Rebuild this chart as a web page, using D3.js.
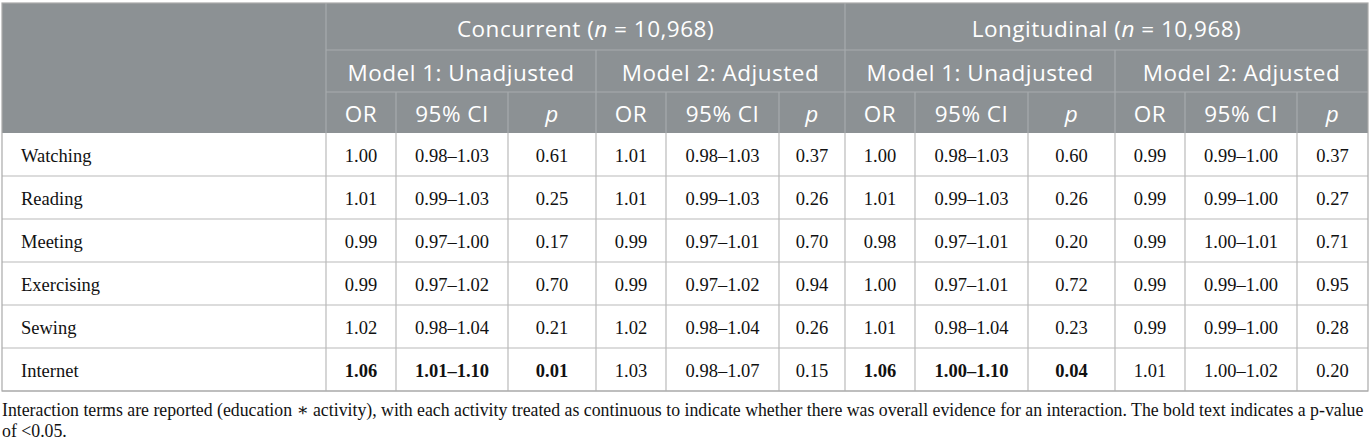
<!DOCTYPE html>
<meta charset="utf-8">
<script src="https://d3js.org/d3.v7.min.js"></script>
<style>
  body { margin: 0; background: #fff; }
  .sans { font-family: "Open Sans", sans-serif; }
  .serif { font-family: "Liberation Serif", "DejaVu Serif", serif; }
</style>
<body>
<div id="visual"></div>
<script>

// rows of the table
var activities = ["Watching", "Reading", "Meeting", "Exercising", "Sewing", "Internet"];

// Concurrent, model 1 (unadjusted)
var concM1OR = ["1.00", "1.01", "0.99", "0.99", "1.02", "1.06"];
var concM1CI = ["0.98–1.03", "0.99–1.03", "0.97–1.00", "0.97–1.02", "0.98–1.04", "1.01–1.10"];
var concM1P  = ["0.61", "0.25", "0.17", "0.70", "0.21", "0.01"];
// Concurrent, model 2 (adjusted)
var concM2OR = ["1.01", "1.01", "0.99", "0.99", "1.02", "1.03"];
var concM2CI = ["0.98–1.03", "0.99–1.03", "0.97–1.01", "0.97–1.02", "0.98–1.04", "0.98–1.07"];
var concM2P  = ["0.37", "0.26", "0.70", "0.94", "0.26", "0.15"];
// Longitudinal, model 1 (unadjusted)
var longM1OR = ["1.00", "1.01", "0.98", "1.00", "1.01", "1.06"];
var longM1CI = ["0.98–1.03", "0.99–1.03", "0.97–1.01", "0.97–1.01", "0.98–1.04", "1.00–1.10"];
var longM1P  = ["0.60", "0.26", "0.20", "0.72", "0.23", "0.04"];
// Longitudinal, model 2 (adjusted)
var longM2OR = ["0.99", "0.99", "0.99", "0.99", "0.99", "1.01"];
var longM2CI = ["0.99–1.00", "0.99–1.00", "1.00–1.01", "0.99–1.00", "0.99–1.00", "1.00–1.02"];
var longM2P  = ["0.37", "0.27", "0.71", "0.95", "0.28", "0.20"];

// header labels
var groupLabels = [["Concurrent (", "n", " = 10,968)"], ["Longitudinal (", "n", " = 10,968)"]];
var modelLabels = ["Model 1: Unadjusted", "Model 2: Adjusted"];
var statLabels = ["OR", "95% CI", "p"];

var footLines = [
  "Interaction terms are reported (education \u2217 activity), with each activity treated as continuous to indicate whether there was overall evidence for an interaction. The bold text indicates a p-value",
  "of <0.05."
];

(function() {

  // the 4 models, each [OR, CI, p]
  var models = [
    [concM1OR, concM1CI, concM1P],
    [concM2OR, concM2CI, concM2P],
    [longM1OR, longM1CI, longM1P],
    [longM2OR, longM2CI, longM2P]
  ];

  // ---- layout ----
  var W = 1372, H = 443;
  var x0 = 2, x1 = 1368;
  var labelW = 324;
  var statW = [70, 112, 88, 70, 113, 66, 70, 113, 87, 70, 112, 72];
  var hdrRows = [3, 50, 92, 133];
  var bodyBottom = 391;

  var edges = [x0, x0 + labelW];
  statW.forEach(function(w) { edges.push(edges[edges.length - 1] + w); });
  edges[edges.length - 1] = x1;

  var y = d3.scaleBand()
    .domain(activities)
    .range([hdrRows[3], bodyBottom]);

  var svg = d3.select("#visual")
    .append("svg")
      .attr("width", W)
      .attr("height", H);

  var headFill = "#8c9194",
      headLine = "#a7abad",
      bodyLine = "#bababa";

  // header background
  svg.append("rect")
    .attr("x", x0).attr("y", hdrRows[0])
    .attr("width", x1 - x0).attr("height", hdrRows[3] - hdrRows[0])
    .attr("fill", headFill);

  // header lines
  var hl = svg.append("g").attr("stroke", headLine).attr("stroke-width", 1.2);
  [hdrRows[1], hdrRows[2]].forEach(function(yy) {
    hl.append("line").attr("x1", edges[1]).attr("x2", x1).attr("y1", yy).attr("y2", yy);
  });
  edges.slice(1, edges.length - 1).forEach(function(x, k) {
    var ya;
    if (k === 0 || k === 6) ya = hdrRows[0];
    else if (k === 3 || k === 9) ya = hdrRows[1];
    else ya = hdrRows[2];
    hl.append("line").attr("x1", x).attr("x2", x).attr("y1", ya).attr("y2", hdrRows[3]);
  });

  // header texts
  var hText = svg.append("g")
    .attr("class", "sans")
    .attr("fill", "#fff")
    .style("font-size", "22.5px")
    .style("letter-spacing", "0.5px")
    .attr("text-anchor", "middle")
    .attr("dominant-baseline", "central");

  groupLabels.forEach(function(lab, g) {
    var a = edges[1 + g * 6], b = edges[7 + g * 6];
    var t = hText.append("text")
      .attr("x", (a + b) / 2)
      .attr("y", (hdrRows[0] + hdrRows[1]) / 2 + 1);
    t.append("tspan").text(lab[0]);
    t.append("tspan").style("font-style", "italic").text(lab[1]);
    t.append("tspan").text(lab[2]);
  });

  models.forEach(function(mod, m) {
    var a = edges[1 + m * 3], b = edges[4 + m * 3];
    hText.append("text")
      .attr("x", (a + b) / 2)
      .attr("y", (hdrRows[1] + hdrRows[2]) / 2 + 1)
      .text(modelLabels[m % 2]);
    statLabels.forEach(function(s, j) {
      var c = 1 + m * 3 + j;
      hText.append("text")
        .attr("x", (edges[c] + edges[c + 1]) / 2)
        .attr("y", (hdrRows[2] + hdrRows[3]) / 2 + 1)
        .style("font-style", s === "p" ? "italic" : null)
        .text(s);
    });
  });

  // body lines
  var bl = svg.append("g").attr("stroke", bodyLine).attr("stroke-width", 1.2);
  activities.forEach(function(a) {
    var yy = y(a) + y.bandwidth();
    bl.append("line").attr("x1", x0).attr("x2", x1).attr("y1", yy).attr("y2", yy);
  });
  edges.slice(1, edges.length - 1).forEach(function(x) {
    bl.append("line").attr("x1", x).attr("x2", x).attr("y1", hdrRows[3]).attr("y2", bodyBottom);
  });

  // outer border
  svg.append("rect")
    .attr("x", x0).attr("y", hdrRows[0])
    .attr("width", x1 - x0).attr("height", bodyBottom - hdrRows[0])
    .attr("fill", "none")
    .attr("stroke", "#aaaaaa")
    .attr("stroke-width", 1.2);

  // body texts
  var bText = svg.append("g")
    .attr("class", "serif")
    .attr("fill", "#111")
    .style("font-size", "18.5px")
    .attr("dominant-baseline", "central");

  activities.forEach(function(a, i) {
    var cy = y(a) + y.bandwidth() / 2 + 1;
    bText.append("text")
      .attr("x", 21)
      .attr("y", cy)
      .text(a);
    models.forEach(function(mod, m) {
      var bold = +mod[2][i] < 0.05;
      mod.forEach(function(col, j) {
        var c = 1 + m * 3 + j;
        bText.append("text")
          .attr("x", (edges[c] + edges[c + 1]) / 2)
          .attr("y", cy)
          .attr("text-anchor", "middle")
          .style("font-weight", bold ? "bold" : null)
          .text(col[i]);
      });
    });
  });

  // footnote, sized so the first line runs to the table's right edge
  var foot = svg.append("g")
    .attr("class", "serif")
    .attr("fill", "#111")
    .style("font-size", "15px");

  var f0 = foot.append("text").attr("x", x0).attr("y", 416).text(footLines[0]);
  var len = f0.node().getComputedTextLength();
  foot.style("font-size", (15 * 1363 / len) + "px");
  foot.append("text").attr("x", x0).attr("y", 437).text(footLines[1]);

})();

</script>
</body>
</html>
